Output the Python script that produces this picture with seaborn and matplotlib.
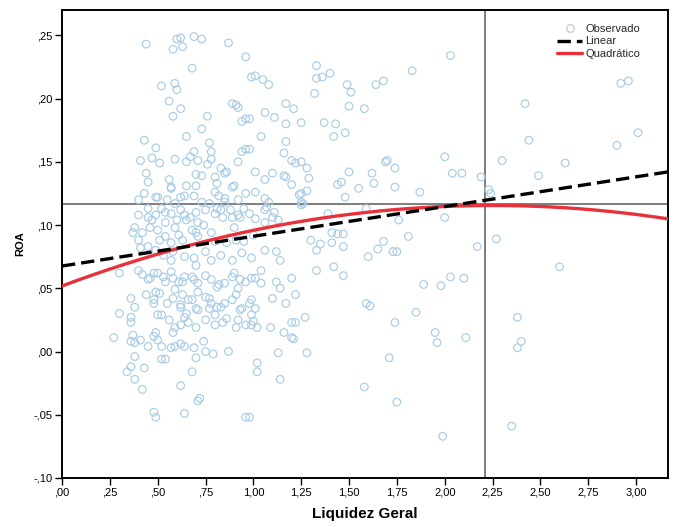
import numpy as np
import pandas as pd
import matplotlib
matplotlib.use("Agg")
import matplotlib.pyplot as plt
from matplotlib.lines import Line2D
from matplotlib.ticker import FixedLocator, FixedFormatter
import seaborn as sns

# ---------------- data ----------------
liquidez = [
    0.44, 0.60, 0.62, 0.58, 0.63, 0.69, 0.73, 0.87, 0.96, 0.68, 0.99, 1.01, 1.05, 1.08, 1.33, 1.33,
    1.36, 1.40, 1.32, 1.49, 1.51, 1.64, 1.68, 1.83, 2.03, 0.52, 0.59, 0.60, 0.56, 0.62, 0.58, 0.76,
    0.89, 0.91, 0.92, 0.94, 0.96, 0.98, 1.17, 1.21, 1.06, 1.11, 1.25, 1.17, 1.37, 1.43, 1.50, 1.58,
    2.42, 2.92, 2.96,
    0.43, 0.73, 0.65, 0.77, 0.49, 0.78, 0.94, 0.96, 0.69, 1.04, 1.17, 1.42, 1.48, 0.98, 1.16, 2.44,
    2.90, 3.01, 2.00, 0.41, 0.47, 0.51, 0.59, 0.65, 0.67, 0.71, 0.76, 0.78, 0.92, 1.20, 1.25, 1.70,
    2.30, 2.63,
    1.01, 1.06, 1.17, 1.20, 1.29, 1.25, 1.28, 1.22, 1.28, 1.50, 1.62, 1.69, 1.74, 1.44, 1.46, 1.55,
    1.63, 1.74, 1.87, 1.48, 2.04, 2.09, 2.19, 2.49, 2.23, 2.24, 0.44, 0.45, 0.56, 0.57, 0.70, 0.73,
    0.80, 0.85, 0.65, 0.70, 0.90, 0.43, 0.50, 0.40, 0.64, 0.69, 0.80, 0.82, 0.96, 1.01, 0.55, 0.59,
    0.73, 0.77, 0.85, 0.92, 0.83, 0.86, 0.81, 0.89, 1.10, 1.16, 1.24, 1.25, 1.06, 1.08, 0.57, 0.49,
    0.62, 0.85, 1.07,
    1.25, 1.26, 1.39, 1.59, 1.76, 1.01, 1.06, 1.11, 1.41, 1.44, 1.47, 1.30, 1.35, 1.33, 1.41, 1.47,
    1.60, 1.65, 1.68, 1.73, 1.75, 1.81, 2.00, 2.27, 2.17, 0.40, 0.45, 0.49, 0.54, 0.57, 0.62, 0.64,
    0.67, 0.70, 0.71, 0.80, 0.83, 0.89, 0.93, 0.95, 0.37, 0.42, 0.46, 0.50, 0.54, 0.59, 0.61, 0.63,
    0.68, 0.71, 0.78, 0.80, 0.86, 0.91, 0.95, 1.00, 0.41, 0.45, 0.49, 0.53, 0.57, 0.58, 0.64, 0.69,
    0.70, 0.75, 0.78, 0.83, 0.89, 0.94, 0.99, 0.45, 0.52, 0.75, 0.81, 0.84, 0.88, 0.92, 0.98, 1.06,
    1.10, 1.13, 0.38, 0.47, 0.54, 0.60, 0.65, 0.70, 0.90, 0.40, 0.51, 0.57, 0.74, 1.12, 1.06, 1.14,
    1.33, 1.42, 1.47, 1.89, 1.98, 1.59, 1.61, 1.85, 2.60, 2.03, 2.10, 2.38, 1.74, 0.30, 0.40, 0.42,
    0.46, 0.50, 0.54, 0.58, 0.63, 0.68, 0.71, 0.75, 0.78, 0.81, 0.85, 0.89, 0.93, 0.99, 0.36, 0.38,
    0.30, 0.44, 0.48, 0.51, 0.55, 0.58, 0.62, 0.66, 0.70, 0.75, 0.78, 0.83, 0.89, 0.93, 0.98, 0.50,
    0.64, 0.80, 1.12, 1.14, 1.20, 1.22, 1.17, 1.10, 1.04, 1.01, 1.04, 1.27, 1.20, 1.22, 1.09, 1.16,
    1.20, 1.01, 0.99, 0.92, 0.91, 0.84, 0.80, 0.75, 0.77, 0.70, 0.62, 0.59, 0.52, 0.36, 0.36, 0.45,
    0.48, 0.53, 0.57, 0.61, 0.64, 0.69, 0.82, 0.90, 0.92, 0.96, 0.49, 0.59, 0.63, 0.68, 0.71, 0.77,
    0.81, 0.85, 0.91, 0.94, 0.99, 0.48, 0.62, 0.65, 0.71, 0.96, 0.56, 0.66, 0.86, 1.00,
    0.99, 1.02, 1.21, 1.13, 1.28, 1.02, 1.02, 1.14, 1.71, 1.58, 1.75, 1.95, 1.96, 1.99, 0.98, 2.11,
    2.40, 2.38, 2.35, 0.27, 0.37, 0.38, 0.41, 0.45, 0.38, 0.36, 0.34, 0.43, 0.38, 0.42, 0.49, 0.50,
    0.48, 0.52, 0.52, 0.54, 0.57, 0.59, 0.58, 0.62, 0.64, 0.69, 0.70, 0.68, 0.74, 0.79, 0.87, 0.62,
    0.72, 0.71, 0.48, 0.49, 0.64, 0.96, 0.75, 0.36,
]
roa = [
    0.243, 0.247, 0.248, 0.239, 0.241, 0.249, 0.247, 0.244, 0.233, 0.224, 0.217, 0.218, 0.215, 0.211, 0.226, 0.216,
    0.217, 0.220, 0.204, 0.211, 0.205, 0.211, 0.214, 0.222, 0.234, 0.210, 0.212, 0.207, 0.198, 0.192, 0.186, 0.186,
    0.196, 0.195, 0.193, 0.182, 0.184, 0.184, 0.196, 0.192, 0.189, 0.185, 0.181, 0.180, 0.181, 0.180, 0.194, 0.192,
    0.196, 0.212, 0.214,
    0.167, 0.176, 0.170, 0.165, 0.161, 0.158, 0.158, 0.160, 0.158, 0.170, 0.166, 0.170, 0.173, 0.160, 0.157, 0.167,
    0.163, 0.173, 0.154, 0.151, 0.153, 0.149, 0.152, 0.150, 0.154, 0.151, 0.148, 0.152, 0.150, 0.151, 0.150, 0.151,
    0.151, 0.149,
    0.142, 0.136, 0.138, 0.132, 0.137, 0.125, 0.127, 0.149, 0.145, 0.142, 0.141, 0.150, 0.145, 0.132, 0.134, 0.129,
    0.133, 0.130, 0.126, 0.122, 0.141, 0.141, 0.138, 0.139, 0.128, 0.125, 0.141, 0.134, 0.136, 0.130, 0.140, 0.139,
    0.138, 0.141, 0.131, 0.131, 0.131, 0.125, 0.122, 0.120, 0.123, 0.123, 0.126, 0.123, 0.125, 0.126, 0.120, 0.117,
    0.118, 0.117, 0.118, 0.120, 0.145, 0.142, 0.133, 0.130, 0.141, 0.139, 0.124, 0.118, 0.121, 0.118, 0.129, 0.122,
    0.122, 0.121, 0.114,
    0.116, 0.117, 0.109, 0.113, 0.104, 0.105, 0.102, 0.110, 0.094, 0.093, 0.093, 0.088, 0.085, 0.080, 0.086, 0.083,
    0.075, 0.081, 0.087, 0.079, 0.079, 0.091, 0.106, 0.089, 0.083, 0.108, 0.106, 0.108, 0.110, 0.109, 0.112, 0.108,
    0.106, 0.110, 0.102, 0.109, 0.112, 0.106, 0.106, 0.113, 0.094, 0.094, 0.098, 0.096, 0.091, 0.098, 0.092, 0.088,
    0.096, 0.091, 0.094, 0.087, 0.086, 0.088, 0.087, 0.092, 0.082, 0.083, 0.080, 0.076, 0.072, 0.079, 0.075, 0.074,
    0.068, 0.079, 0.072, 0.076, 0.072, 0.078, 0.074, 0.113, 0.113, 0.112, 0.113, 0.106, 0.112, 0.108, 0.109, 0.112,
    0.106, 0.104, 0.098, 0.104, 0.102, 0.104, 0.104, 0.094, 0.098, 0.088, 0.088, 0.086, 0.100, 0.079, 0.080, 0.072,
    0.064, 0.067, 0.060, 0.053, 0.052, 0.038, 0.036, 0.031, 0.067, 0.059, 0.058, 0.027, 0.023, 0.062, 0.064, 0.061,
    0.058, 0.062, 0.055, 0.058, 0.055, 0.059, 0.054, 0.060, 0.057, 0.051, 0.054, 0.059, 0.057, 0.058, 0.042, 0.035,
    0.030, 0.045, 0.041, 0.046, 0.038, 0.042, 0.035, 0.041, 0.034, 0.043, 0.038, 0.035, 0.041, 0.033, 0.038, 0.029,
    0.027, 0.029, 0.055, 0.050, 0.058, 0.045, 0.038, 0.042, 0.054, 0.058, 0.064, 0.027, 0.023, 0.023, 0.019, 0.015,
    0.011, 0.034, 0.029, 0.025, 0.019, 0.023, 0.021, 0.025, 0.034, 0.019, 0.021, 0.019, 0.029, 0.027, 0.023, 0.057,
    0.062, 0.059, 0.063, 0.055, 0.059, 0.057, 0.053, 0.062, 0.050, 0.055, 0.047, 0.049, 0.045, 0.041, 0.047, 0.042,
    0.035, 0.038, 0.045, 0.034, 0.041, 0.038, 0.037, 0.030, 0.033, 0.021, 0.025, 0.023, 0.026, 0.024,
    0.021, 0.019, 0.010, -0.001, -0.001, -0.009, -0.016, -0.022, -0.005, -0.028, -0.040, 0.015, 0.007, -0.067, -0.052, 0.011,
    0.008, 0.003, -0.059, 0.011, 0.013, 0.007, 0.009, 0.004, -0.004, -0.012, -0.016, -0.013, -0.022, -0.030, 0.015, 0.009,
    0.012, 0.004, -0.006, -0.006, 0.003, 0.004, 0.015, 0.006, 0.004, 0.003, -0.005, -0.016, 0.008, -0.002, 0.000, -0.027,
    -0.037, -0.039, -0.048, -0.052, -0.049, -0.052, 0.000, 0.008,
]

# fitted curves (coefficients)
linear_coef = [0.0676, 0.0235]              # a + b*x
quad_coef = [0.0518, 0.0566, -0.01258]      # a + b*x + c*x^2
mean_liquidez = 2.21
mean_roa = 0.1163

x_ticks = [0.00, 0.25, 0.50, 0.75, 1.00, 1.25, 1.50, 1.75, 2.00, 2.25, 2.50, 2.75, 3.00]
x_tick_labels = [",00", ",25", ",50", ",75", "1,00", "1,25", "1,50", "1,75", "2,00",
                 "2,25", "2,50", "2,75", "3,00"]
y_ticks = [-0.10, -0.05, 0.00, 0.05, 0.10, 0.15, 0.20, 0.25]
y_tick_labels = ["-,10", "-,05", ",00", ",05", ",10", ",15", ",20", ",25"]
legend_labels = ["Observado", "Linear", "Quadrático"]

# ---------------- plot ----------------
sns.set_theme(style="white")
plt.rcParams["font.family"] = ["Liberation Sans", "DejaVu Sans"]

fig = plt.figure(figsize=(6.77, 5.27), dpi=100)
ax = fig.add_axes([0.0916, 0.093, 0.8951, 0.888])

x_min, x_max = 0.0, 3.167
y_min, y_max = -0.10, 0.27

point_color = "#a9cce6"
df = pd.DataFrame({"Liquidez Geral": liquidez, "ROA": roa})
sns.scatterplot(data=df, x="Liquidez Geral", y="ROA", ax=ax, s=30, marker="o", zorder=2)
pts = ax.collections[-1]
pts.set_facecolor("none")
pts.set_edgecolor(point_color)
pts.set_linewidth(0.85)

grid = np.linspace(x_min, x_max, 200)
fits = pd.DataFrame({
    "x": grid,
    "linear": np.polyval(linear_coef[::-1], grid),
    "quad": np.polyval(quad_coef[::-1], grid),
})

ax.axvline(mean_liquidez, color="#5a5a5a", lw=1.1, zorder=1)
ax.axhline(mean_roa, color="#5a5a5a", lw=1.1, zorder=1)

sns.lineplot(data=fits, x="x", y="quad", ax=ax, color="#e8313b", lw=2.4, zorder=4)
sns.lineplot(data=fits, x="x", y="linear", ax=ax, color="black", lw=2.4, zorder=5)
ax.lines[-1].set_dashes([4.0, 1.8])

ax.set_xlim(x_min, x_max)
ax.set_ylim(y_min, y_max)
ax.xaxis.set_major_locator(FixedLocator(x_ticks))
ax.xaxis.set_major_formatter(FixedFormatter(x_tick_labels))
ax.yaxis.set_major_locator(FixedLocator(y_ticks))
ax.yaxis.set_major_formatter(FixedFormatter(y_tick_labels))
ax.tick_params(axis="both", which="major", direction="out", length=5, width=1,
               color="black", labelsize=8, labelcolor="black", pad=2,
               bottom=True, left=True)

for sp in ax.spines.values():
    sp.set_color("black")
    sp.set_linewidth(1.4)

ax.set_xlabel("Liquidez Geral", fontsize=11, fontweight="bold", labelpad=7, color="black")
ax.set_ylabel("ROA", fontsize=8, fontweight="bold", labelpad=6, color="black")

handles = [
    Line2D([], [], marker="o", linestyle="none", markerfacecolor="none",
           markeredgecolor="#c8c8c8", markersize=5.5, markeredgewidth=0.9),
    Line2D([], [], color="black", lw=2.4, dashes=[4.0, 1.8]),
    Line2D([], [], color="#e8313b", lw=2.4),
]
ax.legend(handles, legend_labels, loc="upper right", bbox_to_anchor=(0.965, 0.985),
          frameon=False, fontsize=8, labelspacing=0.25, handlelength=2.2,
          handletextpad=0.3, borderaxespad=0.2)

fig.savefig("out.png", dpi=100)
